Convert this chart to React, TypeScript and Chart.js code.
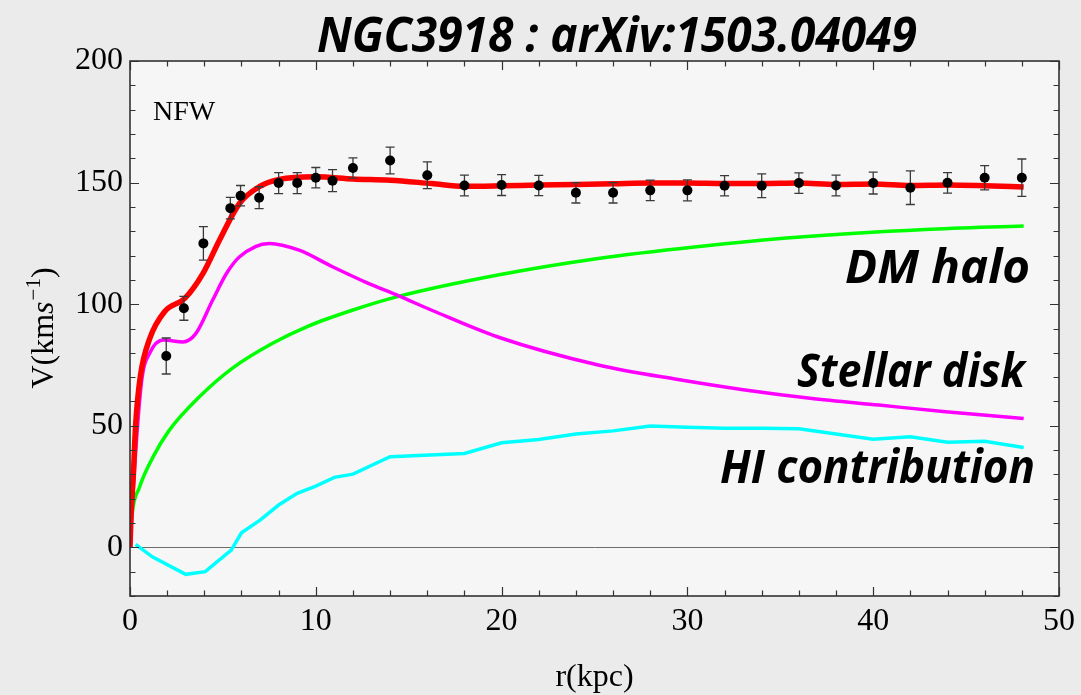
import React, { useEffect, useRef } from "react";
import { Chart, registerables } from "chart.js";
Chart.register(...registerables);

// ---- Observed rotation curve (r in kpc, V in km/s, error) ----
const obsRadius = [1.95, 2.9, 3.95, 5.4, 5.95, 6.95, 8, 9, 10, 10.9, 12, 14, 16, 18, 20, 22, 24, 26, 28, 30, 32, 34, 36, 38, 40, 42, 44, 46, 48];
const obsVelocity = [78.7, 98.3, 125, 139.5, 144.6, 143.8, 149.8, 149.8, 152, 150.8, 156, 159.1, 153, 148.8, 149, 148.8, 145.8, 145.8, 146.8, 146.8, 148.7, 148.7, 149.8, 148.8, 149.8, 147.9, 149.9, 152, 152];
const obsError = [7.4, 4.9, 6.9, 4.4, 4.2, 4.5, 4.3, 4.3, 4.2, 4.5, 4.2, 5.5, 5.5, 4.3, 4.3, 4.2, 4.2, 4.2, 4.2, 4.3, 4.2, 4.9, 4.2, 4.3, 4.5, 6.9, 4.2, 5, 7.7];

// ---- Total fit (red) ----
const totalR = [0, 0.05, 0.18, 0.3, 0.55, 1.07, 1.87, 2.95, 3.93, 4.82, 5.89, 6.96, 8.03, 10, 12, 14, 16.25, 18, 20, 22, 24, 26, 28, 30, 32, 34, 36, 38, 40, 42, 44, 46, 48.1];
const totalV = [0, 12, 30, 50, 70, 86, 97, 102.4, 112.7, 126.4, 141.4, 148.3, 151.3, 152.4, 151.5, 151, 149.6, 148.5, 148.7, 149, 149.2, 149.5, 149.8, 149.8, 149.6, 149.6, 149.8, 149.2, 149.4, 148.8, 149, 148.7, 148.2];

// ---- Stellar disk (magenta) ----
const diskR = [0, 0.18, 0.62, 1.07, 1.8, 2.85, 3.55, 4.45, 5.2, 5.9, 7.5, 9.1, 10.9, 12.7, 14.5, 16.3, 19.8, 25.2, 29.5, 33.1, 36.6, 40.3, 43.9, 48.1];
const diskV = [0, 25, 68, 80, 85.3, 84.5, 88, 101.7, 112.7, 119.5, 125, 122.2, 115.4, 109, 103.3, 97.3, 86.5, 75, 69, 64.7, 61.3, 58.5, 55.8, 53];

// ---- DM halo (green) ----
const haloR = [0, 0.1, 0.5, 1.25, 2.1, 3.75, 5.5, 7.7, 9.6, 12, 14.5, 19.8, 25.2, 30.5, 35.9, 42.8, 48.1];
const haloV = [0, 12.5, 24.5, 37.3, 48, 62, 73.6, 84, 91, 97.6, 103.3, 112, 118.8, 123.6, 127.5, 130.7, 132.2];

// ---- HI contribution (cyan) ----
const hiR = [0.3, 1.2, 3.0, 4.05, 5.45, 6.0, 7.0, 8.0, 9.0, 10.0, 11.0, 12.0, 14.0, 18.0, 20.0, 22.0, 24.0, 26.0, 28.0, 30.0, 32.0, 34.0, 36.0, 38.0, 40.0, 42.0, 44.0, 46.0, 48.1];
const hiV = [1.2, -3.9, -11.1, -10, -1.1, 6, 11.2, 17.4, 22.2, 25.2, 28.8, 30.1, 37.3, 38.6, 43, 44.4, 46.6, 47.9, 49.9, 49.4, 49, 49, 48.8, 46.6, 44.5, 45.5, 43.2, 43.6, 41.1];

// ---- Axes ----
const xTickValues = [0, 10, 20, 30, 40, 50];
const yTickValues = [0, 50, 100, 150, 200];
const xMinorStep = 2;
const yMinorStep = 10;
const xRange = [0, 50];
const yRange = [-20, 200];

const titleText = "NGC3918 : arXiv:1503.04049";
const curveLabels = ["DM halo", "Stellar disk", "HI contribution"];
const modelLabel = "NFW";
const xTitle = "r(kpc)";

const SERIF = "'Liberation Serif', 'Times New Roman', serif";
const SANS = "'Open Sans', 'Noto Sans', sans-serif";

const zip = (xs: number[], ys: number[]) => xs.map((x, i) => ({ x, y: ys[i] }));

function fitText(ctx: CanvasRenderingContext2D, text: string, x: number, y: number, font: string, width: number, align: CanvasTextAlign) {
  ctx.save();
  ctx.font = font;
  const w = ctx.measureText(text).width;
  const s = width / w;
  ctx.translate(x, y);
  ctx.scale(s, 1);
  ctx.textAlign = align;
  ctx.textBaseline = "alphabetic";
  ctx.fillStyle = "#000";
  ctx.fillText(text, 0, 0);
  ctx.restore();
}

const OBS_INDEX = 4;

const decor = {
  id: "decor",
  beforeDraw(chart: any) {
    const { ctx, chartArea: a } = chart;
    ctx.save();
    ctx.fillStyle = "#ebebeb";
    ctx.fillRect(0, 0, chart.width, chart.height);
    ctx.fillStyle = "#f6f6f6";
    ctx.fillRect(a.left, a.top, a.right - a.left, a.bottom - a.top);
    const y0 = chart.scales.y.getPixelForValue(0);
    ctx.strokeStyle = "#6e6e6e";
    ctx.lineWidth = 1;
    ctx.beginPath();
    ctx.moveTo(a.left, Math.round(y0) + 0.5);
    ctx.lineTo(a.right, Math.round(y0) + 0.5);
    ctx.stroke();
    ctx.restore();
  },
  beforeDatasetDraw(chart: any, args: any) {
    if (args.index !== OBS_INDEX) return;
    const { ctx } = chart;
    const xs = chart.scales.x, ys = chart.scales.y;
    ctx.save();
    ctx.strokeStyle = "#3a3a3a";
    ctx.lineWidth = 1.3;
    obsRadius.forEach((r, i) => {
      const px = xs.getPixelForValue(r);
      const top = ys.getPixelForValue(obsVelocity[i] + obsError[i]);
      const bot = ys.getPixelForValue(obsVelocity[i] - obsError[i]);
      ctx.beginPath();
      ctx.moveTo(px, top); ctx.lineTo(px, bot);
      ctx.moveTo(px - 4.5, top); ctx.lineTo(px + 4.5, top);
      ctx.moveTo(px - 4.5, bot); ctx.lineTo(px + 4.5, bot);
      ctx.stroke();
    });
    ctx.restore();
  },
  afterDatasetsDraw(chart: any) {
    const { ctx, chartArea: a } = chart;
    const xs = chart.scales.x, ys = chart.scales.y;
    ctx.save();
    // ticks (inward, all four sides)
    ctx.strokeStyle = "#333";
    ctx.lineWidth = 1.2;
    ctx.beginPath();
    for (let v = xRange[0]; v <= xRange[1] + 1e-9; v += xMinorStep) {
      const major = xTickValues.includes(v);
      const len = major ? 9 : 5.5;
      const px = Math.round(xs.getPixelForValue(v)) + 0.5;
      ctx.moveTo(px, a.bottom); ctx.lineTo(px, a.bottom - len);
      ctx.moveTo(px, a.top); ctx.lineTo(px, a.top + len);
    }
    for (let v = yRange[0]; v <= yRange[1] + 1e-9; v += yMinorStep) {
      const major = yTickValues.includes(v);
      const len = major ? 9 : 5.5;
      const py = Math.round(ys.getPixelForValue(v)) + 0.5;
      ctx.moveTo(a.left, py); ctx.lineTo(a.left + len, py);
      ctx.moveTo(a.right, py); ctx.lineTo(a.right - len, py);
    }
    ctx.stroke();
    // frame
    ctx.strokeStyle = "#333";
    ctx.lineWidth = 1.6;
    ctx.strokeRect(a.left, a.top, a.right - a.left, a.bottom - a.top);

    // title
    fitText(ctx, titleText, 617, 52, `italic bold 48px ${SANS}`, 600, "center");
    // curve labels
    fitText(ctx, curveLabels[0], 1030, 283, `italic bold 46px ${SANS}`, 185, "right");
    fitText(ctx, curveLabels[1], 1025, 387, `italic bold 46px ${SANS}`, 228, "right");
    fitText(ctx, curveLabels[2], 1035, 483, `italic bold 46px ${SANS}`, 315, "right");
    // NFW
    ctx.font = `28px ${SERIF}`;
    ctx.fillStyle = "#000";
    ctx.textAlign = "left";
    ctx.textBaseline = "alphabetic";
    ctx.fillText(modelLabel, 153, 120);
    // x title
    ctx.font = `32px ${SERIF}`;
    ctx.textAlign = "center";
    ctx.fillText(xTitle, (a.left + a.right) / 2, 686);
    // y title with superscript
    const parts = [
      { t: "V(km", f: `32px ${SERIF}`, dy: 0 },
      { t: "s", f: `italic 32px ${SERIF}`, dy: 0 },
      { t: "\u22121", f: `21px ${SERIF}`, dy: -13 },
      { t: ")", f: `32px ${SERIF}`, dy: 0 },
    ];
    let total = 0;
    const widths = parts.map((p) => { ctx.font = p.f; const w = ctx.measureText(p.t).width; total += w; return w; });
    ctx.translate(53, (a.top + a.bottom) / 2);
    ctx.rotate(-Math.PI / 2);
    ctx.textAlign = "left";
    let cx = -total / 2;
    parts.forEach((p, i) => { ctx.font = p.f; ctx.fillText(p.t, cx, p.dy); cx += widths[i] + (i === 1 ? 1 : 0); });
    ctx.restore();
  },
};

export default function App() {
  const ref = useRef<HTMLCanvasElement | null>(null);
  useEffect(() => {
    document.body.style.margin = "0";
    const canvas = ref.current;
    if (!canvas) return;
    const line = (data: any, color: string, width: number, order: number, mono: boolean) => ({
      data, borderColor: color, backgroundColor: color, borderWidth: width, showLine: true,
      pointRadius: 0, order, tension: 0, cubicInterpolationMode: mono ? "monotone" : "default",
    });
    const chart = new Chart(canvas, {
      type: "scatter",
      data: {
        datasets: [
          line(zip(hiR, hiV), "#00ffff", 3.5, 6, false),
          line(zip(haloR, haloV), "#00ff00", 3.5, 5, true),
          line(zip(diskR, diskV), "#ff00ff", 3.5, 4, true),
          line(zip(totalR, totalV), "#ff0000", 5.5, 3, true),
          { data: zip(obsRadius, obsVelocity), backgroundColor: "#000", borderColor: "#000", pointRadius: 5, pointBorderWidth: 0, order: 1 } as any,
        ],
      },
      options: {
        animation: false,
        responsive: false,
        devicePixelRatio: 1,
        layout: { padding: { top: 61, right: 21, left: 0, bottom: 0 } },
        plugins: { legend: { display: false }, tooltip: { enabled: false }, title: { display: false } },
        scales: {
          x: {
            type: "linear", min: xRange[0], max: xRange[1],
            grid: { display: false, drawTicks: false }, border: { display: false },
            ticks: { font: { family: SERIF, size: 32 }, color: "#000", padding: 6, maxRotation: 0 },
            afterBuildTicks: (s: any) => { s.ticks = xTickValues.map((v) => ({ value: v })); },
            afterFit: (s: any) => { s.height = 99; },
          },
          y: {
            type: "linear", min: yRange[0], max: yRange[1],
            grid: { display: false, drawTicks: false }, border: { display: false },
            ticks: { font: { family: SERIF, size: 32 }, color: "#000", padding: 7 },
            afterBuildTicks: (s: any) => { s.ticks = yTickValues.map((v) => ({ value: v })); },
            afterFit: (s: any) => { s.width = 130; },
          },
        },
      } as any,
      plugins: [decor],
    });
    return () => chart.destroy();
  }, []);
  return (
    <div style={{ width: 1081, height: 695, background: "#ebebeb" }}>
      <canvas ref={ref} width={1081} height={695} style={{ display: "block", width: 1081, height: 695 }} />
    </div>
  );
}
